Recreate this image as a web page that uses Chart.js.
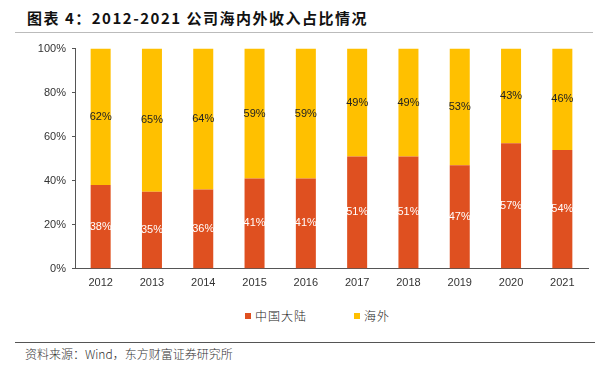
<!DOCTYPE html>
<html>
<head>
<meta charset="utf-8">
<script src="https://cdn.jsdelivr.net/npm/chart.js@4.4.1/dist/chart.umd.min.js"></script>
<style>
  body { margin: 0; background: #fff; width: 608px; height: 366px; position: relative; overflow: hidden; }
  #title { position: absolute; left: 27px; top: 7px; font: bold 15px "Noto Sans CJK SC", sans-serif; letter-spacing: 1.5px; color: #111; white-space: nowrap; }
  #topLine { position: absolute; left: 15px; top: 32px; width: 578px; height: 1px; background: #bbb; }
  #box { position: absolute; left: 0; top: 36px; width: 608px; height: 258px; }
  #legend { position: absolute; top: 307px; left: 0; width: 608px; height: 18px; }
  .item { position: absolute; top: 0; font: 300 12px "Noto Sans CJK SC", sans-serif; color: #222; line-height: 18px; white-space: nowrap; }
  .item i { position: absolute; left: 0; top: 6px; width: 6px; height: 6px; }
  .item span { position: absolute; left: 10px; top: 0; letter-spacing: 1px; }
  #bottomLine { position: absolute; left: 15px; top: 342px; width: 580px; height: 1px; background: #555; }
  #source { position: absolute; left: 25px; top: 345px; font: 300 12px "Noto Sans CJK SC", sans-serif; color: #333; white-space: nowrap; }
</style>
</head>
<body>
<div id="title">图表 4：2012-2021 公司海内外收入占比情况</div>
<div id="topLine"></div>
<div id="box"><canvas id="chart"></canvas></div>
<div id="legend"></div>
<div id="bottomLine"></div>
<div id="source">资料来源：Wind，东方财富证券研究所</div>
<script>
const years = ['2012', '2013', '2014', '2015', '2016', '2017', '2018', '2019', '2020', '2021'];
const mainland = [38, 35, 36, 41, 41, 51, 51, 47, 57, 54];
const overseas = [62, 65, 64, 59, 59, 49, 49, 53, 43, 46];
const yTicks = [0, 20, 40, 60, 80, 100];
const seriesNames = ['中国大陆', '海外'];
const seriesColors = ['#DF5020', '#FFC000'];

// labels in the middle of each stacked segment
const segmentLabels = {
    id: 'segmentLabels',
    afterDatasetsDraw(chart) {
        const ctx = chart.ctx;
        ctx.save();
        ctx.font = '11px "Liberation Sans", Arial, sans-serif';
        ctx.textAlign = 'center';
        ctx.textBaseline = 'middle';
        chart.data.datasets.forEach((ds, i) => {
            const meta = chart.getDatasetMeta(i);
            ctx.fillStyle = i === 0 ? '#ffffff' : '#222222';
            meta.data.forEach((bar, j) => {
                ctx.fillText(ds.data[j] + '%', bar.x, (bar.y + bar.base) / 2);
            });
        });
        ctx.restore();
    }
};

const chart = new Chart(document.getElementById('chart'), {
    type: 'bar',
    data: {
        labels: years,
        datasets: [
            {
                label: seriesNames[0],
                data: mainland,
                backgroundColor: seriesColors[0],
                barPercentage: 0.39,
                categoryPercentage: 1
            },
            {
                label: seriesNames[1],
                data: overseas,
                backgroundColor: seriesColors[1],
                barPercentage: 0.39,
                categoryPercentage: 1
            }
        ]
    },
    options: {
        responsive: true,
        maintainAspectRatio: false,
        animation: false,
        layout: { padding: { left: 30, right: 20, top: 10, bottom: 4 } },
        plugins: {
            legend: { display: false },
            tooltip: { enabled: false }
        },
        scales: {
            x: {
                stacked: true,
                grid: { display: false },
                border: { display: true, color: '#555' },
                ticks: { color: '#333', font: { family: '"Liberation Sans", Arial, sans-serif', size: 11 }, padding: 0 }
            },
            y: {
                stacked: true,
                min: 0,
                max: 100,
                afterBuildTicks: (axis) => { axis.ticks = yTicks.map(v => ({ value: v })); },
                afterFit: (axis) => { axis.width = 45; },
                grid: { drawOnChartArea: false, drawTicks: true, tickLength: 3, color: '#555' },
                border: { display: true, color: '#555' },
                ticks: {
                    color: '#333',
                    padding: 6,
                    font: { family: '"Liberation Sans", Arial, sans-serif', size: 11 },
                    callback: (v) => v + '%'
                }
            }
        }
    },
    plugins: [segmentLabels]
});

// legend drawn as html, placed like the original
const legendX = [245, 354];
const legend = document.getElementById('legend');
chart.data.datasets.forEach((ds, i) => {
    const el = document.createElement('div');
    el.className = 'item';
    el.style.left = legendX[i] + 'px';
    el.innerHTML = '<i style="background:' + ds.backgroundColor + '"></i><span>' + ds.label + '</span>';
    legend.appendChild(el);
});
</script>
</body>
</html>
